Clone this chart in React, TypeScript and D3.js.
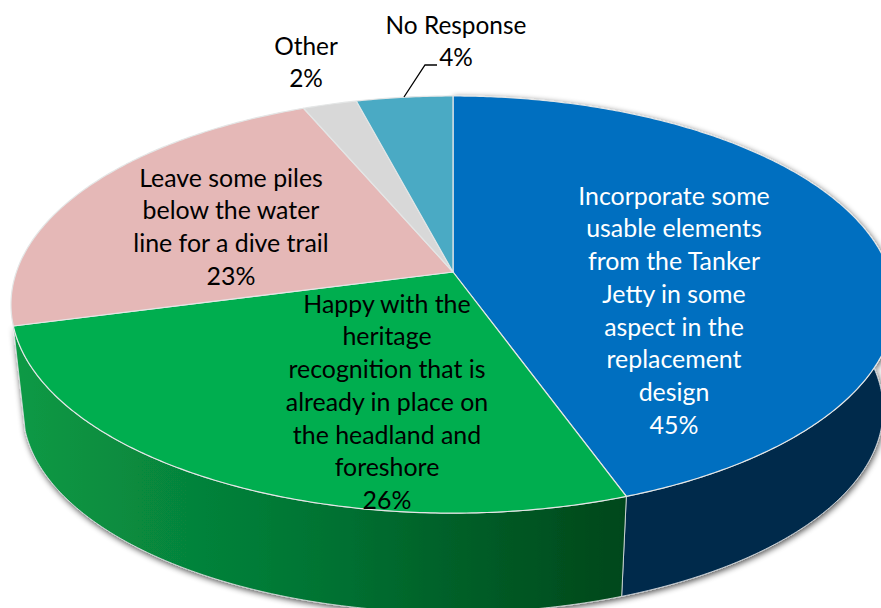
import React from "react";
import * as d3 from "d3";

const categories = [
  "Incorporate some usable elements",
  "Happy with the heritage recognition",
  "Leave some piles below the water line",
  "Other",
  "No Response",
];
const values = [44.5, 26.4, 22.7, 2.3, 4.1];
const topColors = ["#006fc0", "#00ae4f", "#e5b8b7", "#d8d8d8", "#4aaac4"];
const labelLines = [
  ["Incorporate some", "usable elements", "from the Tanker", "Jetty in some", "aspect in the", "replacement", "design", "45%"],
  ["Happy with the", "heritage", "recognition that is", "already in place on", "the headland and", "foreshore", "26%"],
  ["Leave some piles", "below the water", "line for a dive trail", "23%"],
  ["Other", "2%"],
  ["No Response", "4%"],
];
const labelAnchors = [
  { x: 674, y: 196, fill: "#ffffff", size: 24.9 },
  { x: 387, y: 304, fill: "#000000", size: 24.9 },
  { x: 231, y: 178, fill: "#000000", size: 24.9 },
  { x: 306, y: 46, fill: "#000000", size: 24.4 },
  { x: 456, y: 25, fill: "#000000", size: 24.4 },
];

const W = 881, H = 608;
const cx = 453, cy = 272;
const a = 436.6, b = 203.5, k = 0.156;
const wallDrop = 106, wallScale = 0.973;
const lineHeight = 32.7;

// Perspective projection of a point at clock angle t (radians, clockwise from 12) on the pie's top face
function topPoint(t: number): [number, number] {
  const X = Math.sin(t), Y = -Math.cos(t);
  const d = 1 - k * Y;
  return [cx + (a * X) / d, cy + (b * Y) / d];
}
function bottomPoint(t: number): [number, number] {
  const [x, y] = topPoint(t);
  return [cx + wallScale * (x - cx), cy + wallDrop + wallScale * (y - cy)];
}
const arcAngles = (s: number, e: number) => {
  const n = Math.max(2, Math.ceil((e - s) / 0.01));
  return d3.range(n + 1).map((i) => s + ((e - s) * i) / n);
};
const line = d3.line();

const arcs = d3.pie<number>().sort(null).value((d) => d)(values);

function topPath(s: number, e: number) {
  return line([[cx, cy], ...arcAngles(s, e).map(topPoint)])! + "Z";
}
function wallPath(s: number, e: number) {
  const ang = arcAngles(s, e);
  return line([...ang.map(topPoint), ...ang.slice().reverse().map(bottomPoint)])! + "Z";
}

export default function App() {
  const leader = line([[404, 97], [425, 65], [437, 65]])!;
  return (
    <svg
      width={W}
      height={H}
      viewBox={`0 0 ${W} ${H}`}
      style={{ position: "absolute", left: 0, top: 0, background: "#fff" }}
      fontFamily="Lato, 'Open Sans', sans-serif"
    >
      <defs>
        <linearGradient id="greenWall" gradientUnits="userSpaceOnUse" x1={15} x2={625} y1={0} y2={0}>
          <stop offset="0" stopColor="#0a9a45" />
          <stop offset="0.2" stopColor="#078a3e" />
          <stop offset="0.45" stopColor="#047835" />
          <stop offset="0.75" stopColor="#035d27" />
          <stop offset="1" stopColor="#02471a" />
        </linearGradient>
        <filter id="wallShadow" x="-5%" y="-5%" width="110%" height="115%">
          <feGaussianBlur in="SourceAlpha" stdDeviation="3" />
          <feOffset dx="1" dy="2" />
          <feComponentTransfer>
            <feFuncA type="linear" slope="0.7" />
          </feComponentTransfer>
          <feMerge>
            <feMergeNode />
            <feMergeNode in="SourceGraphic" />
          </feMerge>
        </filter>
      </defs>

      <g filter="url(#wallShadow)">
        <path d={wallPath(arcs[0].startAngle, arcs[0].endAngle)} fill="#012a4c" stroke="#dfe3e6" strokeWidth={0.8} />
        <path d={wallPath(arcs[1].startAngle, arcs[1].endAngle)} fill="url(#greenWall)" stroke="#dfe3e6" strokeWidth={0.8} />
      </g>

      <g>
        {arcs.map((d, i) => (
          <path
            key={categories[i]}
            d={topPath(d.startAngle, d.endAngle)}
            fill={topColors[i]}
            stroke="#e4e6e6"
            strokeWidth={1.2}
            strokeLinejoin="round"
          />
        ))}
      </g>

      <path d={leader} fill="none" stroke="#000" strokeWidth={1.3} />

      {labelLines.map((lines, i) => (
        <text key={i} textAnchor="middle" fontSize={labelAnchors[i].size} fill={labelAnchors[i].fill}>
          {lines.map((t, j) => (
            <tspan key={j} x={labelAnchors[i].x} y={labelAnchors[i].y + j * lineHeight} dy="0.35em">
              {t}
            </tspan>
          ))}
        </text>
      ))}
    </svg>
  );
}
